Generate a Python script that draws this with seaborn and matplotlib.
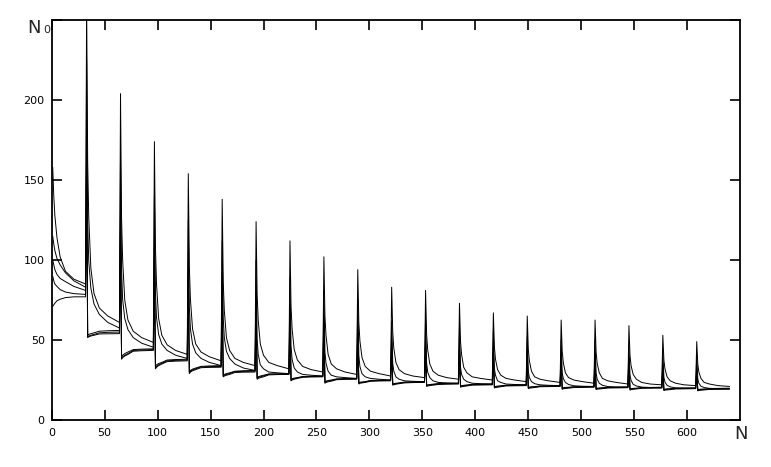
import pandas as pd
import numpy as np
import matplotlib
matplotlib.use('Agg')
import matplotlib.pyplot as plt
import seaborn as sns

# sample points inside each 32-step block (offset from block start)
seg_offsets = [1, 2, 3, 5, 8, 13, 21, 32]
seg_len = 32

# values, one row per block (values at the offsets above)
a_vals = [
    [158, 140, 128, 114, 102, 93, 88, 85],
    [262, 161.5, 127, 95, 79, 70, 65, 61],
    [204, 126, 100, 75, 62.5, 55.5, 51.5, 48.5],
    [174, 107.5, 85, 63.5, 53, 47, 43.5, 41],
    [154, 95.5, 75.5, 57, 47.5, 42.5, 39.5, 37],
    [138, 86, 68.5, 51.5, 43.5, 38.5, 36, 34],
    [124, 78, 62.5, 47.5, 40.5, 36, 34, 32],
    [112, 71, 57, 44, 37.5, 33.5, 31.5, 30],
    [102, 65, 53, 41, 35, 32, 30, 28.5],
    [94, 61, 49.5, 39, 33.5, 30.5, 29, 27.5],
    [83, 55, 45, 36, 31.5, 29, 27.5, 26.5],
    [81, 53.5, 44, 35, 30.5, 28, 26.5, 25.5],
    [73, 49, 41, 33, 29.5, 27, 26, 25],
    [67, 45.5, 38, 31.5, 28, 26, 25, 24],
    [65, 44, 37, 30.5, 27, 25.5, 24.5, 23.5],
    [62.5, 43, 36, 29.5, 26.5, 25, 24, 23],
    [62.5, 42.5, 35.5, 29.5, 26, 24.5, 23.5, 22.5],
    [59, 40.5, 34, 28.5, 25.5, 23.5, 22.5, 22],
    [53, 37.5, 32, 27, 24.5, 23, 22, 21.5],
    [49, 35, 30, 26, 23.5, 22.5, 21.5, 21],
]
b_vals = [
    [115, 110, 106, 101, 97, 92, 87, 83],
    [225, 124.5, 99.5, 82.5, 72.5, 66, 61, 57.5],
    [165, 93.5, 75.5, 63.5, 56.5, 51.5, 48, 45.5],
    [140, 79, 64, 53.5, 47.5, 43.5, 40.5, 38.5],
    [125, 70.5, 57, 47.5, 42, 38.5, 36, 34],
    [112, 63.5, 51.5, 43, 38.5, 35, 32.5, 31],
    [100, 50.5, 41, 34.5, 32, 30, 29.5, 29],
    [89, 46, 38, 32.5, 30, 28.5, 28, 27.5],
    [81, 42.5, 35.5, 30.5, 28, 27, 26.5, 26],
    [76, 40.5, 33.5, 29, 27, 26, 25.5, 25],
    [62, 35.5, 30.5, 27, 25.5, 24.5, 24.2, 24],
    [64, 35.5, 30, 26.5, 24.5, 23.5, 23.2, 23],
    [58, 33, 28.5, 25.5, 24, 23, 22.7, 22.5],
    [56, 32, 28, 24.5, 23.5, 22.5, 22.2, 22],
    [52, 30.5, 26.5, 24, 22.7, 22, 21.7, 21.5],
    [50, 29.5, 26, 23.5, 22.2, 21.4, 21.1, 21],
    [50, 29.5, 25.5, 23, 21.7, 20.9, 20.6, 20.5],
    [47, 28.2, 24.8, 22.3, 21.3, 20.6, 20.3, 20.2],
    [43, 26.8, 23.7, 21.7, 20.7, 20.1, 19.9, 19.8],
    [40, 25.7, 23, 21.1, 20.3, 19.8, 19.6, 19.5],
]
c_vals = [
    [100, 97, 94, 91, 88.5, 86.5, 83.5, 81],
    [173, 53, 53.5, 54, 54.5, 55.5, 55.8, 56],
    [130, 39.5, 40.5, 41.5, 42.5, 44, 44.3, 44.5],
    [110, 33.5, 34.5, 35.3, 36, 37.5, 37.8, 38],
    [98, 30, 31, 31.8, 32.5, 33.5, 33.8, 34],
    [88, 28, 28.5, 29, 29.5, 30.5, 30.8, 31],
    [80, 26.5, 27, 27.5, 28, 28.8, 28.9, 29],
    [72, 25.3, 25.8, 26.2, 26.5, 27.2, 27.4, 27.5],
    [66, 24, 24.3, 24.7, 25, 25.7, 25.9, 26],
    [62, 23.3, 23.6, 23.8, 24, 24.7, 24.9, 25],
    [52, 22.5, 22.7, 23, 23.2, 23.7, 23.9, 24],
    [52, 21.7, 22, 22.2, 22.4, 22.8, 22.9, 23],
    [47, 21.2, 21.5, 21.7, 21.9, 22.3, 22.4, 22.5],
    [45, 20.7, 21, 21.2, 21.4, 21.8, 21.9, 22],
    [43, 20.3, 20.6, 20.8, 20.9, 21.3, 21.4, 21.5],
    [41, 19.9, 20.2, 20.4, 20.5, 20.8, 20.9, 21],
    [41, 19.7, 19.9, 20, 20.2, 20.5, 20.6, 20.7],
    [39, 19.4, 19.6, 19.8, 19.9, 20.3, 20.4, 20.5],
    [35, 19.1, 19.3, 19.5, 19.6, 19.9, 20, 20.1],
    [33, 18.9, 19.1, 19.3, 19.4, 19.7, 19.8, 19.9],
]
d_vals = [
    [90, 87, 85, 83.5, 81.5, 80, 79, 78.5],
    [167, 52, 52.5, 53, 53.5, 54.5, 54.8, 55],
    [120, 38.5, 39.5, 40.5, 41.5, 43.5, 43.8, 44],
    [100, 32.5, 33.5, 34.5, 35.5, 37, 37.3, 37.5],
    [90, 29.5, 30.5, 31.3, 32, 33.2, 33.4, 33.5],
    [80, 27.5, 28, 28.5, 29, 30.2, 30.4, 30.5],
    [72, 26, 26.5, 27, 27.5, 28.6, 28.7, 28.8],
    [65, 25, 25.5, 25.9, 26.3, 27, 27.2, 27.3],
    [60, 23.5, 24, 24.4, 24.7, 25.5, 25.7, 25.8],
    [56, 23, 23.3, 23.5, 23.8, 24.5, 24.7, 24.8],
    [48, 22.2, 22.4, 22.7, 23, 23.5, 23.7, 23.8],
    [48, 21.4, 21.7, 21.9, 22.1, 22.5, 22.7, 22.8],
    [44, 20.9, 21.2, 21.4, 21.6, 22.1, 22.2, 22.3],
    [42, 20.4, 20.7, 20.9, 21.1, 21.6, 21.7, 21.8],
    [40, 20, 20.3, 20.5, 20.6, 21.1, 21.2, 21.3],
    [38, 19.6, 19.9, 20, 20.2, 20.6, 20.7, 20.8],
    [38, 19.4, 19.6, 19.8, 19.9, 20.3, 20.4, 20.5],
    [36, 19.1, 19.3, 19.5, 19.7, 20.1, 20.2, 20.3],
    [33, 18.8, 19, 19.2, 19.3, 19.7, 19.8, 19.9],
    [31, 18.6, 18.8, 19, 19.1, 19.4, 19.5, 19.6],
]
e_vals = [
    [71, 72, 73, 74.5, 75.5, 76.5, 77, 77],
    [140, 51.5, 52, 52.5, 53, 53.8, 53.9, 54],
    [100, 38, 39, 40, 41, 43, 43.3, 43.5],
    [85, 32, 33, 34, 35, 36.5, 36.8, 37],
    [75, 29, 30, 30.8, 31.5, 32.7, 32.9, 33],
    [68, 27, 27.5, 28, 28.5, 29.7, 29.9, 30],
    [62, 25.5, 26, 26.5, 27, 28.2, 28.4, 28.5],
    [57, 24.5, 25, 25.5, 26, 26.7, 26.9, 27],
    [52, 23, 23.5, 23.9, 24.3, 25.2, 25.4, 25.5],
    [48, 22.5, 23, 23.2, 23.5, 24.2, 24.4, 24.5],
    [42, 21.8, 22, 22.4, 22.7, 23.2, 23.4, 23.5],
    [42, 21, 21.3, 21.5, 21.8, 22.2, 22.4, 22.5],
    [38, 20.5, 20.8, 21, 21.3, 21.8, 21.9, 22],
    [36, 20, 20.3, 20.5, 20.8, 21.3, 21.4, 21.5],
    [35, 19.6, 19.9, 20.1, 20.3, 20.8, 20.9, 21],
    [34, 19.2, 19.5, 19.7, 19.9, 20.3, 20.4, 20.5],
    [34, 19, 19.3, 19.4, 19.6, 20, 20.1, 20.2],
    [32, 18.7, 19, 19.2, 19.4, 19.8, 19.9, 20],
    [30, 18.4, 18.7, 18.8, 19, 19.4, 19.5, 19.6],
    [28, 18.2, 18.5, 18.6, 18.8, 19.1, 19.2, 19.3],
]

x_ticks = list(range(0, 601, 50))
y_ticks = [0, 50, 100, 150, 200, 250]
y_tick_labels = ['0', '50', '100', '150', '200', '']

# build long table
rows = []
for name, vals in [('a', a_vals), ('b', b_vals), ('c', c_vals), ('d', d_vals), ('e', e_vals)]:
    for k, block in enumerate(vals):
        for off, v in zip(seg_offsets, block):
            rows.append({'series': name, 'N': k * seg_len + off, 'N0': v})
df = pd.DataFrame(rows)

sns.set_style('ticks')
plt.rcParams['font.family'] = ['DejaVu Sans']

fig = plt.figure(figsize=(7.71, 4.67), dpi=100)
ax = fig.add_axes([0.067, 0.1006, 0.893, 0.8565])

sns.lineplot(data=df, x='N', y='N0', hue='series', palette=['black'] * 5,
             legend=False, linewidth=0.7, estimator=None, sort=False, ax=ax)

ax.set_xlim(0, 650)
ax.set_ylim(0, 250)
ax.set_xticks(x_ticks)
ax.set_xticklabels([str(t) for t in x_ticks])
ax.set_yticks(y_ticks)
ax.set_yticklabels(y_tick_labels)
ax.set_xlabel('')
ax.set_ylabel('')
for s in ax.spines.values():
    s.set_visible(True)
    s.set_linewidth(1.3)
    s.set_color('black')
ax.tick_params(direction='in', top=True, right=True, length=7, width=1.2,
               labelsize=8, colors='black')
ax.tick_params(axis='x', pad=6)
ax.tick_params(axis='y', pad=5)

fig.text(0.035, 0.929, 'N', fontsize=13, ha='left', va='baseline')
fig.text(0.056, 0.929, '0', fontsize=8, ha='left', va='baseline')
fig.text(0.961, 0.071, 'N', fontsize=13, ha='center', va='center')

fig.savefig('out.png', dpi=100)
